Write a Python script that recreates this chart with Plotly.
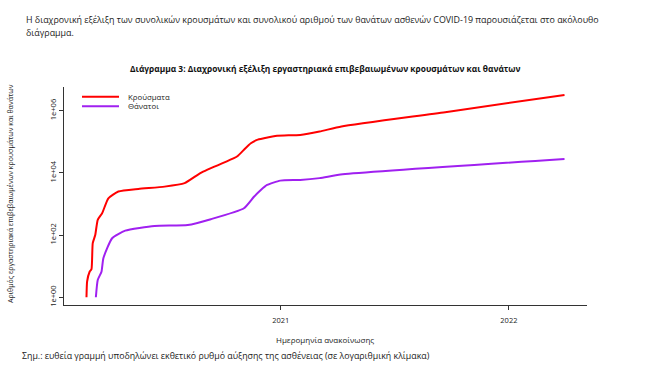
import plotly.graph_objects as go

# ---- data ----
cases_dates = ["2020-02-25", "2020-02-26", "2020-03-01", "2020-03-04", "2020-03-06",
               "2020-03-10", "2020-03-14", "2020-03-21", "2020-03-31", "2020-04-16",
               "2020-05-18", "2020-06-29", "2020-07-31", "2020-08-26", "2020-10-18",
               "2020-10-24", "2020-11-03", "2020-11-14", "2020-11-24", "2020-12-05",
               "2020-12-26", "2021-02-01", "2021-03-04", "2021-04-08", "2021-09-21",
               "2022-03-31"]
cases_vals = [1, 3.2, 6.6, 8, 55,
              100, 309, 500, 1510, 2500,
              3030, 3600, 4650, 10000, 29500,
              34700, 55000, 89000, 115000, 129000,
              155000, 166000, 213000, 309000, 890000,
              3200000]

deaths_dates = ["2020-03-11", "2020-03-14", "2020-03-20", "2020-03-23", "2020-04-06",
                "2020-04-27", "2020-06-13", "2020-08-05", "2020-09-11", "2020-11-03",
                "2020-11-19", "2020-11-30", "2020-12-10", "2020-12-31", "2021-02-01",
                "2021-03-04", "2021-04-10", "2022-03-31"]
deaths_vals = [1, 3.6, 6.6, 18, 79,
               138, 195, 210, 323, 725,
               1700, 2800, 4070, 5620, 5900,
               6760, 8950, 28000]

series_names = ["Κρούσματα", "Θάνατοι"]
series_colors = ["#ff0000", "#a020f0"]

y_tickvals = [1, 100, 10000, 1000000]
y_ticktext = ["1e+00", "1e+02", "1e+04", "1e+06"]
x_tickvals = ["2021-01-01", "2022-01-01"]
x_ticktext = ["2021", "2022"]

# ---- layout geometry (pixels) ----
W, H = 650, 392
L, R, T, B = 64, 587, 87, 305


def xp(px):
    return (px - L) / (R - L)


def yp(py):
    return (B - py) / (B - T)


FONT = "Open Sans, Noto Sans, sans-serif"
TXT = "#222222"

fig = go.Figure()
fig.add_trace(go.Scatter(x=cases_dates, y=cases_vals, mode="lines", name=series_names[0],
                         showlegend=False,
                         line=dict(color=series_colors[0], width=2, shape="spline", smoothing=0.5)))
fig.add_trace(go.Scatter(x=deaths_dates, y=deaths_vals, mode="lines", name=series_names[1],
                         showlegend=False,
                         line=dict(color=series_colors[1], width=2, shape="spline", smoothing=0.5)))

ann = [
    dict(text="Η διαχρονική εξέλιξη των συνολικών κρουσμάτων και συνολικού αριθμού των θανάτων ασθενών COVID-19 παρουσιάζεται στο ακόλουθο",
         x=xp(24), y=yp(19), xanchor="left", yanchor="middle", font=dict(size=8.9, color=TXT)),
    dict(text="διάγραμμα.", x=xp(24), y=yp(32), xanchor="left", yanchor="middle",
         font=dict(size=8.9, color=TXT)),
    dict(text="<b>Διάγραμμα 3: Διαχρονική εξέλιξη εργαστηριακά επιβεβαιωμένων κρουσμάτων και θανάτων</b>",
         x=xp(325), y=yp(68), xanchor="center", yanchor="middle", font=dict(size=8.4, color="#111111")),
    dict(text="Ημερομηνία ανακοίνωσης", x=xp(325), y=yp(339), xanchor="center", yanchor="middle",
         font=dict(size=8, color=TXT)),
    dict(text="Σημ.: ευθεία γραμμή υποδηλώνει εκθετικό ρυθμό αύξησης της ασθένειας (σε λογαριθμική κλίμακα)",
         x=xp(20), y=yp(356), xanchor="left", yanchor="middle", font=dict(size=8.8, color=TXT)),
    dict(text="Αριθμός εργαστηριακά επιβεβαιωμένων κρουσμάτων και θανάτων", textangle=-90,
         x=xp(10), y=yp(194), xanchor="center", yanchor="middle", font=dict(size=7, color=TXT)),
]

# legend drawn as key lines + labels
shapes = []
for i, (nm, col) in enumerate(zip(series_names, series_colors)):
    ly = 96.7 + i * 9.5
    shapes.append(dict(type="line", xref="paper", yref="paper",
                       x0=xp(82), x1=xp(119), y0=yp(ly), y1=yp(ly),
                       line=dict(color=col, width=2)))
    ann.append(dict(text=nm, x=xp(126), y=yp(ly), xanchor="left", yanchor="middle",
                    font=dict(size=7.8, color=TXT)))

for a in ann:
    a.update(xref="paper", yref="paper", showarrow=False)

fig.update_layout(
    width=W, height=H,
    margin=dict(l=L, r=W - R, t=T, b=H - B, pad=0),
    paper_bgcolor="white", plot_bgcolor="white",
    font=dict(family=FONT, color=TXT),
    showlegend=False,
    annotations=ann,
    shapes=shapes,
    xaxis=dict(type="date", range=["2020-01-20", "2022-05-06"],
               showgrid=False, zeroline=False, showline=True, linecolor="#333333", linewidth=1,
               ticks="outside", ticklen=4, tickcolor="#333333",
               tickvals=x_tickvals, ticktext=x_ticktext,
               tickfont=dict(size=7.5, color=TXT), ticklabelstandoff=4),
    yaxis=dict(type="log", range=[-0.25, 6.76],
               showgrid=False, zeroline=False, showline=True, linecolor="#333333", linewidth=1,
               ticks="outside", ticklen=4, tickcolor="#333333",
               tickvals=y_tickvals, ticktext=y_ticktext, tickangle=-90,
               tickfont=dict(size=7.5, color=TXT)),
)

fig.write_html("out.html",
               config={"displayModeBar": False},
               post_script="document.body.style.margin='0px';document.body.style.overflow='hidden';")
